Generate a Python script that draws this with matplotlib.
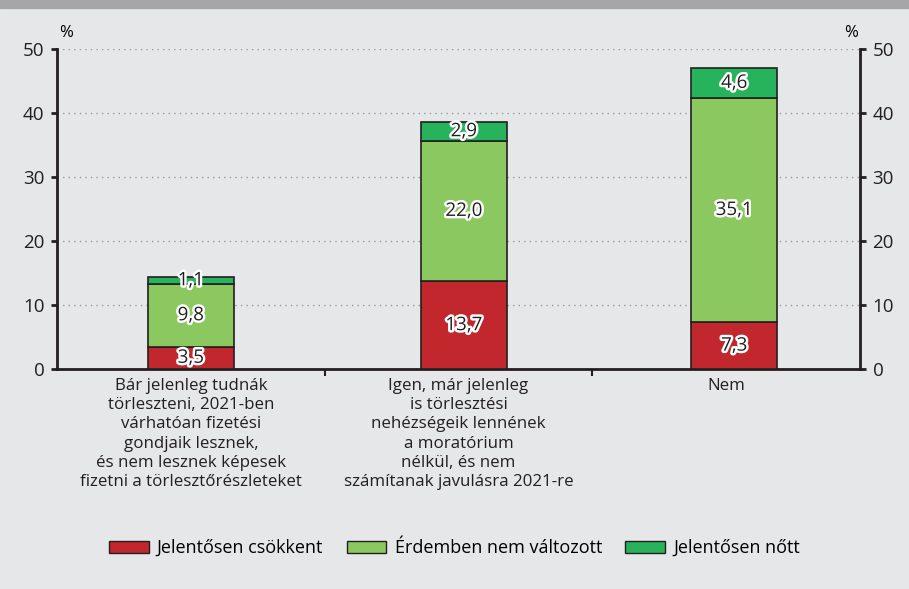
import matplotlib.pyplot as plt
import matplotlib.patheffects as pe
from matplotlib.patches import Rectangle
import numpy as np

categories = [
    "Bár jelenleg tudnák\ntörleszteni, 2021-ben\nvárhatóan fizetési\ngondjaik lesznek,\nés nem lesznek képesek\nfizetni a törlesztőrészleteket",
    "Igen, már jelenleg\nis törlesztési\nnehézségeik lennének\na moratórium\nnélkül, és nem\nszámítanak javulásra 2021-re",
    "Nem",
]
csokkent = [3.5, 13.7, 7.3]
nem_valtozott = [9.8, 22.0, 35.1]
nott = [1.1, 2.9, 4.6]
series_names = ["Jelentősen csökkent", "Érdemben nem változott", "Jelentősen nőtt"]
colors = ["#c1272d", "#8cc860", "#27b25c"]

plt.rcParams['font.family'] = ['Open Sans', 'DejaVu Sans']

fig = plt.figure(figsize=(9.09, 5.89), dpi=100, facecolor="#e6e7e8")
# top grey band
fig.patches.append(Rectangle((0, 0.986), 1, 0.014, transform=fig.transFigure,
                             color="#a6a6a8", zorder=0))

ax = fig.add_axes([57 / 909, 1 - 369 / 589, (860 - 57) / 909, (369 - 49) / 589])
ax.set_facecolor("#e6e7e8")

x = np.arange(len(categories)) + np.array([0.0, 0.02, 0.03])
width = 0.32
bottoms = np.zeros(len(categories))
for vals, col in zip([csokkent, nem_valtozott, nott], colors):
    ax.bar(x, vals, width, bottom=bottoms, color=col, edgecolor="#231f20",
           linewidth=1.2, zorder=3)
    for xi, b, v in zip(x, bottoms, vals):
        ax.text(xi, b + v / 2, f"{v:.1f}".replace(".", ","), ha="center", va="center",
                fontsize=13.5, color="#231f20", zorder=4,
                path_effects=[pe.withStroke(linewidth=3.5, foreground="white")])
    bottoms += np.array(vals)

ax.set_xlim(-0.5, 2.5)
ax.set_ylim(0, 50)
ax.set_yticks(range(0, 51, 10))
ax.yaxis.grid(True, linestyle=(0, (1, 3)), color="#9a9a9a", linewidth=1, zorder=0)
ax.tick_params(axis="y", labelsize=13.5, colors="#231f20", direction="out", length=4,
               width=2, right=True, labelright=True, pad=5)
ax.set_xticks([0.5, 1.5])
ax.set_xticklabels([])
ax.tick_params(axis="x", direction="out", length=5, width=1.5, colors="#231f20")
for i, c in enumerate(categories):
    ax.text(i, -1.4, c, ha="center", va="top", fontsize=12.2, color="#231f20",
            linespacing=1.27)

for s in ["left", "right", "bottom"]:
    ax.spines[s].set_linewidth(2)
    ax.spines[s].set_color("#231f20")
ax.spines["top"].set_visible(False)

ax.text(0.003, 1.025, "%", transform=ax.transAxes, ha="left", va="bottom", fontsize=12)
ax.text(0.997, 1.025, "%", transform=ax.transAxes, ha="right", va="bottom", fontsize=12)

handles = [Rectangle((0, 0), 1, 1, facecolor=c, edgecolor="#231f20", linewidth=1)
           for c in colors]
fig.legend(handles, series_names, loc="center", bbox_to_anchor=(0.5, 1 - 548 / 589),
           ncol=3, frameon=False, fontsize=13, handlelength=2.2, handleheight=0.65,
           columnspacing=1.3, handletextpad=0.45)

fig.savefig("out.png", dpi=100, facecolor=fig.get_facecolor())
